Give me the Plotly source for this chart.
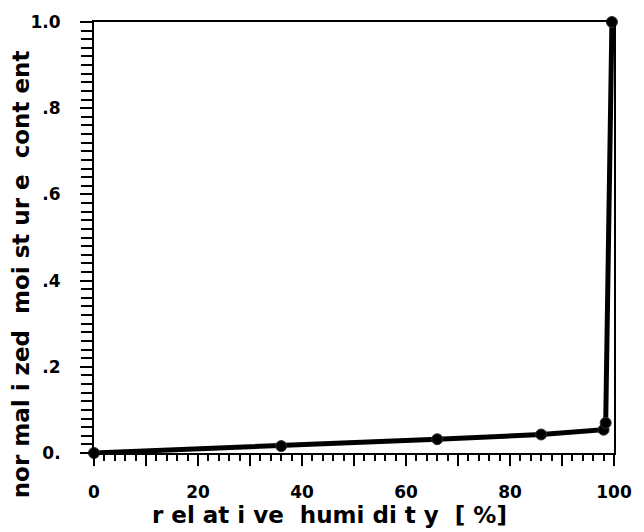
import plotly.graph_objects as go

# Sorption data: relative humidity [%] vs normalized moisture content
rh = [0, 36, 66, 86, 98, 98.4, 99.6]
moisture = [0.0, 0.016, 0.032, 0.043, 0.054, 0.07, 1.0]

x_tickvals = [0, 10, 20, 30, 40, 50, 60, 70, 80, 90, 100]
x_ticktext = ["0", "", "20", "", "40", "", "60", "", "80", "", "100"]
y_tickvals = [0, 0.2, 0.4, 0.6, 0.8, 1.0]
y_ticktext = ["0.", ".2", ".4", ".6", ".8", "1.0"]

x_title = "r el at i ve  humi di t y  [ %]"
y_title = "nor mal i zed  moi st ur e  cont ent"

bold = dict(family="DejaVu Sans, sans-serif", color="black", weight="bold")

fig = go.Figure()
fig.add_trace(go.Scatter(
    x=rh, y=moisture, mode="lines+markers",
    line=dict(color="black", width=5),
    marker=dict(color="black", size=11, line=dict(color="#333", width=1)),
    cliponaxis=False, showlegend=False,
))
# empty trace that carries the overlaid minor-tick axes
fig.add_trace(go.Scatter(x=[None], y=[None], xaxis="x2", yaxis="y2",
                         showlegend=False, hoverinfo="skip"))

L, R, T, B = 94, 22, 12, 79
W, H = 644, 532
pw, ph = W - L - R, H - T - B

fig.update_layout(
    width=W, height=H,
    margin=dict(l=L, r=R, t=T, b=B),
    paper_bgcolor="white", plot_bgcolor="white",
    xaxis=dict(
        range=[0, 100], showgrid=False, zeroline=False,
        showline=True, linecolor="black", linewidth=2, mirror=True,
        ticks="outside", ticklen=11, tickwidth=2, tickcolor="black",
        tickmode="array", tickvals=x_tickvals, ticktext=x_ticktext,
        tickfont=dict(size=17, **bold), ticklabelstandoff=12,
    ),
    yaxis=dict(
        range=[0, 1], showgrid=False, zeroline=False,
        showline=True, linecolor="black", linewidth=2, mirror=True,
        ticks="outside", ticklen=12, tickwidth=2, tickcolor="black",
        tickmode="array", tickvals=y_tickvals, ticktext=y_ticktext,
        tickfont=dict(size=17, **bold), ticklabelstandoff=16,
    ),
    xaxis2=dict(range=[0, 100], overlaying="x", side="bottom", anchor="y2",
                dtick=2, ticks="outside", ticklen=7, tickwidth=2, tickcolor="black",
                showticklabels=False, showgrid=False, zeroline=False),
    yaxis2=dict(range=[0, 1], overlaying="y", side="left", anchor="x2",
                dtick=0.02, ticks="outside", ticklen=12, tickwidth=2, tickcolor="black",
                showticklabels=False, showgrid=False, zeroline=False),
    annotations=[
        dict(text=x_title, xref="paper", yref="paper",
             x=(333 - L) / pw, y=-(516 - (T + ph)) / ph,
             showarrow=False, font=dict(size=23, **bold),
             xanchor="center", yanchor="middle"),
        dict(text=y_title, xref="paper", yref="paper",
             x=(20 - L) / pw, y=1 - (270 - T) / ph,
             showarrow=False, textangle=-90, font=dict(size=23, **bold),
             xanchor="center", yanchor="middle"),
    ],
)

fig.write_html("out.html")
